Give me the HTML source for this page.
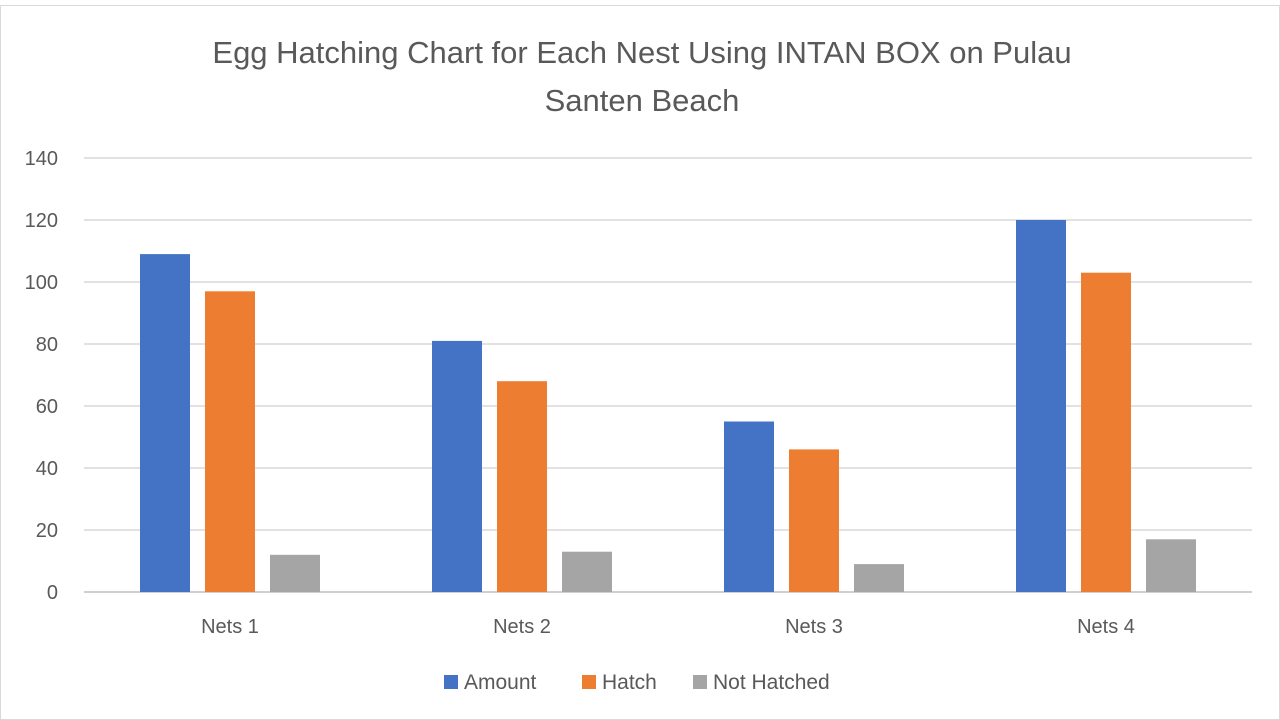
<!DOCTYPE html>
<html><head><meta charset="utf-8"><style>
html,body{margin:0;padding:0;background:#fff;}
svg{display:block;font-family:"Liberation Sans",sans-serif;}
</style></head><body>
<svg id="chart" width="1280" height="720">
<rect x="0.5" y="5.5" width="1279" height="714" fill="#fff" stroke="#d9d9d9"/>
<text x="642" y="63" text-anchor="middle" font-size="31" fill="#595959">Egg Hatching Chart for Each Nest Using INTAN BOX on Pulau</text>
<text x="642" y="111" text-anchor="middle" font-size="31" fill="#595959">Santen Beach</text>
<g id="grid"></g><g id="bars"></g><g id="xlabels"></g>
<g>
<rect x="444" y="675" width="14" height="14" fill="#4472c4"/>
<text x="464" y="689" font-size="21" fill="#595959">Amount</text>
<rect x="582" y="675" width="14" height="14" fill="#ed7d31"/>
<text x="602" y="689" font-size="21" fill="#595959">Hatch</text>
<rect x="693" y="675" width="14" height="14" fill="#a5a5a5"/>
<text x="713" y="689" font-size="21" fill="#595959">Not Hatched</text>
</g>
</svg>
<script>
const categories = ["Nets 1","Nets 2","Nets 3","Nets 4"];
const amount = [109, 81, 55, 120];
const hatch = [97, 68, 46, 103];
const notHatched = [12, 13, 9, 17];
const yTicks = [0,20,40,60,80,100,120,140];
const NS="http://www.w3.org/2000/svg";
const x0=84,x1=1252,yBase=592,yTop=158,yMax=140;
const y=v=>yBase-(yBase-yTop)*v/yMax;
const catW=(x1-x0)/categories.length;
const grid=document.getElementById('grid'),bars=document.getElementById('bars'),xl=document.getElementById('xlabels');
yTicks.forEach(t=>{
 const l=document.createElementNS(NS,'line');
 l.setAttribute('x1',x0);l.setAttribute('x2',x1);l.setAttribute('y1',y(t));l.setAttribute('y2',y(t));
 l.setAttribute('stroke',t===0?'#bfbfbf':'#d9d9d9');l.setAttribute('stroke-width','1.5');
 
 
 grid.appendChild(l);
 const tx=document.createElementNS(NS,'text');
 tx.setAttribute('x',58);tx.setAttribute('y',y(t)+7);tx.setAttribute('text-anchor','end');
 tx.setAttribute('font-size','20');tx.setAttribute('fill','#595959');tx.textContent=t;
 
 
 grid.appendChild(tx);
});
const series=[[amount,'#4472c4','amount'],[hatch,'#ed7d31','hatch'],[notHatched,'#a5a5a5','not-hatched']];
const bw=50,gap=15;
categories.forEach((c,i)=>{
 const cx=x0+catW*(i+0.5);
 series.forEach((s,j)=>{
  const v=s[0][i];
  const r=document.createElementNS(NS,'rect');
  const bx=cx-bw*1.5-gap+j*(bw+gap);
  r.setAttribute('x',bx);r.setAttribute('y',y(v));r.setAttribute('width',bw);r.setAttribute('height',yBase-y(v));
  r.setAttribute('fill',s[1]);
  
  
  bars.appendChild(r);
 });
 const t=document.createElementNS(NS,'text');
 t.setAttribute('x',cx);t.setAttribute('y',633);t.setAttribute('text-anchor','middle');
 t.setAttribute('font-size','20');t.setAttribute('fill','#595959');t.textContent=c;
 
 
 xl.appendChild(t);
});
</script>
</body></html>
